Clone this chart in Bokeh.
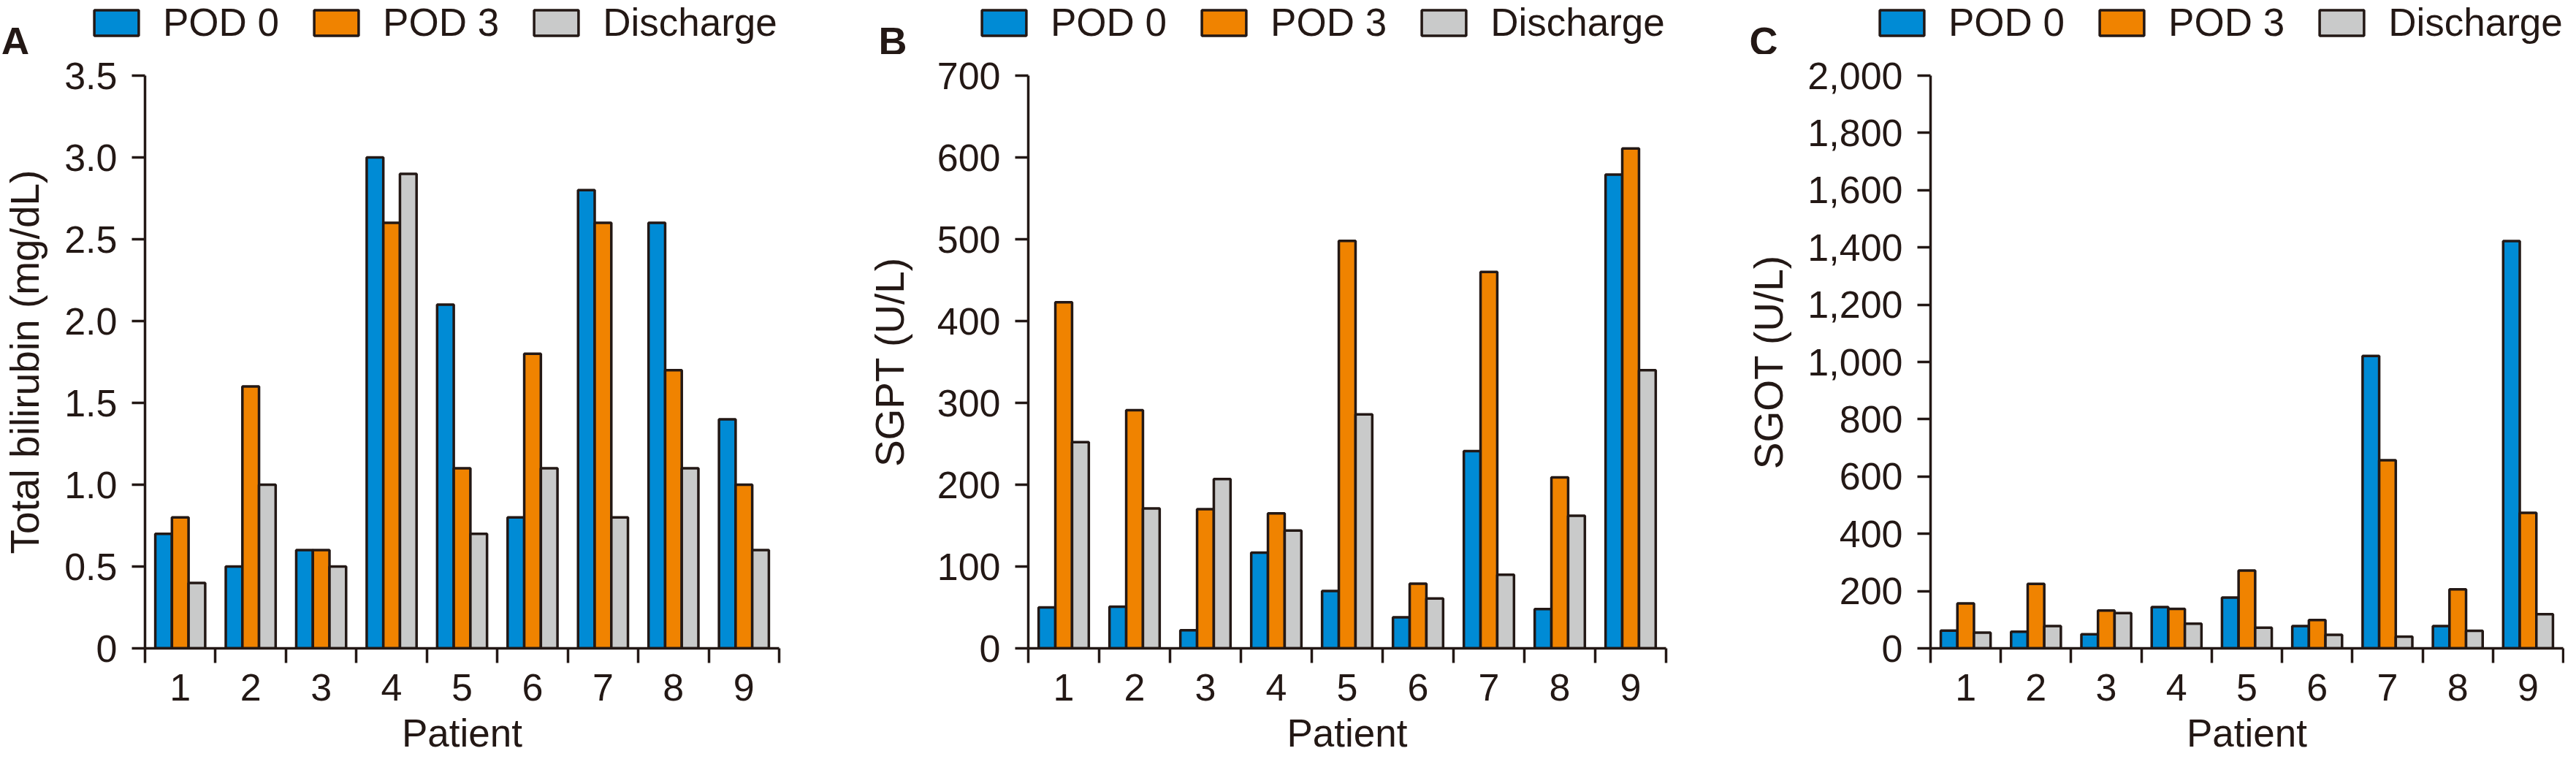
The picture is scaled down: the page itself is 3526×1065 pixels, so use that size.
import numpy as np
from bokeh.plotting import figure
from bokeh.models import ColumnDataSource, Range1d, FixedTicker, Legend, LegendItem, Label
from bokeh.transform import dodge
from bokeh.layouts import row, column
from bokeh.embed import file_html
from bokeh.resources import INLINE

# ---------------- data ----------------
patients = [1, 2, 3, 4, 5, 6, 7, 8, 9]
series_names = ["POD 0", "POD 3", "Discharge"]
panel_letters = ["A", "B", "C"]

bili_pod0 = [0.7, 0.5, 0.6, 3.0, 2.1, 0.8, 2.8, 2.6, 1.4]
bili_pod3 = [0.8, 1.6, 0.6, 2.6, 1.1, 1.8, 2.6, 1.7, 1.0]
bili_disc = [0.4, 1.0, 0.5, 2.9, 0.7, 1.1, 0.8, 1.1, 0.6]

sgpt_pod0 = [50, 51, 22, 117, 70, 38, 241, 48, 579]
sgpt_pod3 = [423, 291, 170, 165, 498, 79, 460, 209, 611]
sgpt_disc = [252, 171, 207, 144, 286, 61, 90, 162, 340]

sgot_pod0 = [62, 58, 49, 144, 177, 78, 1021, 78, 1422]
sgot_pod3 = [157, 225, 132, 138, 272, 99, 657, 206, 473]
sgot_disc = [55, 78, 123, 86, 72, 47, 41, 61, 119]

bili_ticks = [0, 0.5, 1.0, 1.5, 2.0, 2.5, 3.0, 3.5]
bili_tick_labels = ["0", "0.5", "1.0", "1.5", "2.0", "2.5", "3.0", "3.5"]
sgpt_ticks = [0, 100, 200, 300, 400, 500, 600, 700]
sgpt_tick_labels = ["0", "100", "200", "300", "400", "500", "600", "700"]
sgot_ticks = [0, 200, 400, 600, 800, 1000, 1200, 1400, 1600, 1800, 2000]
sgot_tick_labels = ["0", "200", "400", "600", "800", "1,000", "1,200", "1,400",
                    "1,600", "1,800", "2,000"]

# ---------------- styles ----------------
FONT = "Liberation Sans"
INK = "#231815"
COLORS = ["#008BD5", "#F08300", "#C9CACA"]
HEADER_H = 74
H = 1049 - HEADER_H
FRAME_TOP = 29
BOTTOM_BORDER = 162
BAR_W = 0.236
WIDTHS = [1140, 1192, 1178]
LEFTS = [191, 267, 310]
RIGHTS = [74, 52, 2]
YLABEL_STANDOFF = [20, 31, 19]


def make_panel(ylabel, vals, yticks, ylabels, width, left, right, ystand):
    src = ColumnDataSource(dict(
        x=[p - 0.5 for p in patients],
        s0=vals[0], s1=vals[1], s2=vals[2],
    ))
    p = figure(width=width, height=H, output_backend="svg", toolbar_location=None,
               x_range=Range1d(0, len(patients)), y_range=Range1d(yticks[0], yticks[-1]),
               min_border_left=left, min_border_right=right,
               min_border_top=FRAME_TOP, min_border_bottom=BOTTOM_BORDER)
    p.title.visible = False
    p.outline_line_color = None
    p.xgrid.visible = False
    p.ygrid.visible = False

    for i, key in enumerate(["s0", "s1", "s2"]):
        p.vbar(x=dodge("x", (i - 1) * BAR_W, range=p.x_range), top=key, width=BAR_W,
               bottom=0, source=src, fill_color=COLORS[i], line_color=INK,
               line_width=3.5)

    # x axis: labels at centres, ticks at boundaries
    xa = p.xaxis[0]
    xa.ticker = FixedTicker(ticks=[q - 0.5 for q in patients],
                            minor_ticks=list(range(0, len(patients) + 1)))
    xa.major_label_overrides = {q - 0.5: str(q) for q in patients}
    xa.major_tick_out = 0
    xa.major_tick_in = 0
    xa.minor_tick_out = 20
    xa.minor_tick_in = 0
    xa.minor_tick_line_width = 3.5
    xa.minor_tick_line_color = INK
    xa.axis_line_width = 3.5
    xa.axis_line_color = INK
    xa.major_label_text_font = FONT
    xa.major_label_text_font_size = "52px"
    xa.major_label_text_color = INK
    xa.major_label_standoff = 15
    xa.axis_label = "Patient"
    xa.axis_label_text_font = FONT
    xa.axis_label_text_font_size = "53px"
    xa.axis_label_text_font_style = "normal"
    xa.axis_label_text_color = INK
    xa.axis_label_standoff = 12

    ya = p.yaxis[0]
    ya.ticker = FixedTicker(ticks=yticks, minor_ticks=[])
    ya.major_label_overrides = {t: l for t, l in zip(yticks, ylabels)}
    ya.major_tick_out = 18
    ya.major_tick_in = 0
    ya.major_tick_line_width = 3.5
    ya.major_tick_line_color = INK
    ya.minor_tick_out = 0
    ya.minor_tick_in = 0
    ya.axis_line_width = 3.5
    ya.axis_line_color = INK
    ya.major_label_text_font = FONT
    ya.major_label_text_font_size = "52px"
    ya.major_label_text_color = INK
    ya.major_label_standoff = 20
    ya.axis_label = ylabel
    ya.axis_label_text_font = FONT
    ya.axis_label_text_font_size = "55px"
    ya.axis_label_text_font_style = "normal"
    ya.axis_label_text_color = INK
    ya.axis_label_standoff = ystand
    return p, src


pa, src_a = make_panel("Total bilirubin (mg/dL)", [bili_pod0, bili_pod3, bili_disc],
                       bili_ticks, bili_tick_labels, WIDTHS[0], LEFTS[0], RIGHTS[0],
                       YLABEL_STANDOFF[0])
pb, src_b = make_panel("SGPT (U/L)", [sgpt_pod0, sgpt_pod3, sgpt_disc],
                       sgpt_ticks, sgpt_tick_labels, WIDTHS[1], LEFTS[1], RIGHTS[1],
                       YLABEL_STANDOFF[1])
pc, src_c = make_panel("SGOT (U/L)", [sgot_pod0, sgot_pod3, sgot_disc],
                       sgot_ticks, sgot_tick_labels, WIDTHS[2], LEFTS[2], RIGHTS[2],
                       YLABEL_STANDOFF[2])

# ---------------- header strip: panel letters + legends ----------------
# legend keys reuse the same bar series; they are muted (transparent) inside the strip
hdr = figure(width=sum(WIDTHS), height=HEADER_H, output_backend="svg",
             toolbar_location=None, x_range=Range1d(0, len(patients)), y_range=Range1d(-2, -1),
             x_axis_type=None, y_axis_type=None,
             min_border_left=0, min_border_right=0, min_border_top=0, min_border_bottom=0)
hdr.title.visible = False
hdr.outline_line_color = None
hdr.xgrid.visible = False
hdr.ygrid.visible = False

keys = []
for i, (k, c) in enumerate(zip(["s0", "s1", "s2"], COLORS)):
    r = hdr.vbar(x=dodge("x", (i - 1) * BAR_W, range=hdr.x_range), top=k, width=BAR_W,
                 bottom=0, source=src_a, fill_color=c, line_color=INK, line_width=3.5,
                 muted_fill_alpha=0, muted_line_alpha=0)
    r.muted = True
    keys.append(r)

letter_x = [1, 1202, 2394]
legend_x = [121, 1336, 2565]
for letter, lx, gx in zip(panel_letters, letter_x, legend_x):
    hdr.add_layout(Label(x=lx, y=19, x_units="screen", y_units="screen",
                         text=letter, text_baseline="alphabetic",
                         text_font=FONT, text_font_style="bold", text_font_size="54px",
                         text_color=INK))
    hdr.add_layout(Legend(
        items=[LegendItem(label=n, renderers=[r]) for n, r in zip(series_names, keys)],
        location=(gx, 13), orientation="horizontal", glyph_width=76, glyph_height=44,
        label_standoff=26, spacing=40, padding=0, margin=0,
        border_line_color=None, background_fill_alpha=0,
        label_text_font=FONT, label_text_font_size="53px", label_text_color=INK,
    ))

layout = column(hdr, row(pa, pb, pc))
open("out.html", "w").write(file_html(layout, INLINE))
